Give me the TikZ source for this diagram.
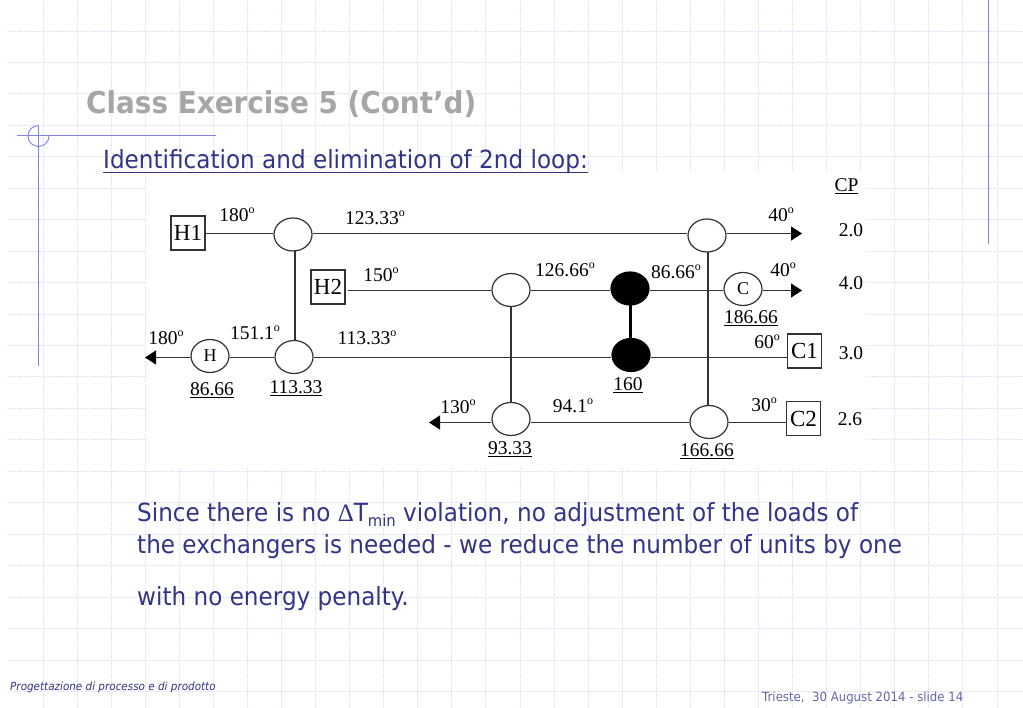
\documentclass[tikz,border=0pt]{standalone}
\usepackage{fontspec}
\usetikzlibrary{arrows.meta,shapes.geometric}
\setmainfont{DejaVu Sans}[FakeStretch=0.925]
\newfontfamily\serifdg{Liberation Serif}
\definecolor{gridc}{HTML}{E6E6FA}
\definecolor{decor}{HTML}{8080E8}
\definecolor{navy}{HTML}{333388}
\definecolor{ink}{HTML}{333333}
\newcommand{\dg}{\raisebox{0.42em}{\fontsize{12}{12}\selectfont o}}
\tikzset{
 x=1pt,y=-1pt,
 gridline/.style={gridc,line width=0.9pt,dash pattern=on 3pt off 0.8pt},
 decorline/.style={decor,line width=0.9pt},
 wire/.style={ink,line width=1.3pt},
 unitbox/.style={draw=ink,line width=1.2pt,fill=white,minimum size=34pt,inner sep=0pt,font=\serifdg\fontsize{23}{23}\selectfont,text=black},
 hx/.style={ellipse,draw=ink,line width=1.2pt,fill=white,minimum width=38pt,minimum height=33pt,inner sep=0pt,font=\serifdg\fontsize{18}{18}\selectfont,text=black},
 hxblack/.style={hx,fill=black,draw=black},
 lbl/.style={inner sep=0pt,font=\serifdg\fontsize{19.5}{19}\selectfont,text=black},
 headtext/.style={anchor=base west,inner sep=0pt},
 arr/.style={wire,-{Triangle[length=11pt,width=14pt,color=black]}},
}
\begin{document}
\begin{tikzpicture}
\useasboundingbox (0,0) rectangle (1023,708);
\fill[white] (0,0) rectangle (1023,708);
% background grid
\foreach \k in {0,...,21}{\draw[gridline] (9,31+31.45*\k) -- (1023,31+31.45*\k);}
\foreach \k in {0,...,28}{\draw[gridline] (43+34.07*\k,0) -- (43+34.07*\k,708);}
\fill[white] (146,172) rectangle (866,468);
% slide decoration
\coordinate (dl) at (17,135.5); \coordinate (dr) at (216,135.5);
\coordinate (dt) at (38.5,126); \coordinate (db) at (38.5,366);
\coordinate (rt) at (988,0); \coordinate (rb) at (988,244);
\draw[decorline] (dl) -- (dr);
\draw[decorline] (dt) -- (db);
\draw[decorline] (rt) -- (rb);
\draw[decorline] (38.5,125.5) arc[start angle=270,end angle=0,radius=10.5];
% texts
\node[headtext,text=black!35,font=\bfseries\fontsize{30.1}{30}\selectfont] (title) at (86,114) {Class Exercise 5 (Cont’d)};
\node[headtext,text=navy,font=\fontsize{25}{25}\selectfont] (sub) at (103,169) {Identification and elimination of 2nd loop:};
\draw[navy,line width=1.2pt] (sub.west |- 0,172.5) -- (sub.east |- 0,172.5);
\node[headtext,text=navy,font=\fontsize{25}{25}\selectfont] (b1) at (137,521) {Since there is no {\serifdg Δ}T\raisebox{-0.2em}{\fontsize{16}{16}\selectfont min} violation, no adjustment of the loads of};
\node[headtext,text=navy,font=\fontsize{25}{25}\selectfont] (b2) at (137,553) {the exchangers is needed - we reduce the number of units by one};
\node[headtext,text=navy,font=\fontsize{25}{25}\selectfont] (b3) at (137,605) {with no energy penalty.};
\node[headtext,text=navy,font=\itshape\fontsize{11.25}{11}\selectfont] (f1) at (10,690) {Progettazione di processo e di prodotto};
\node[headtext,text=navy!75,font=\fontsize{12.7}{12.5}\selectfont] (f2) at (762,701) {Trieste,\ \ 30 August 2014 - slide 14};
% units
\node[unitbox] (H1) at (188,233) {H1};
\node[unitbox] (H2) at (328,287) {H2};
\node[unitbox] (C1) at (804.5,351) {C1};
\node[unitbox] (C2) at (803.5,418.5) {C2};
\node[hx] (a1) at (293,234.5) {};
\node[hx] (a2) at (707,235.5) {};
\node[hx] (b5) at (511,290) {};
\node[hxblack] (k1) at (630,288.5) {};
\node[hx] (cc) at (743,289) {C};
\node[hx] (a3) at (294,357) {};
\node[hxblack] (k2) at (631,355) {};
\node[hx] (hh) at (210,356) {H};
\node[hx] (b4) at (511,419) {};
\node[hx] (a4) at (709,422) {};
\coordinate (t1) at (802,233.5);
\coordinate (t2) at (802,290.5);
\coordinate (t3) at (145,357.5);
\coordinate (t4) at (429,422.5);
% connectors
\draw[wire] (H1.east |- 0,233.5) -- (a1.west |- 0,233.5);
\draw[wire] (a1.east |- 0,233.5) -- (a2.west |- 0,233.5);
\draw[arr] (a2.east |- t1) -- (t1);
\draw[wire] ([xshift=2pt]H2.east |- 0,290.5) -- (b5.west |- 0,290.5);
\draw[wire] (b5.east |- 0,290.5) -- (k1.west |- 0,290.5);
\draw[wire] (k1.east |- 0,290.5) -- (cc.west |- 0,290.5);
\draw[arr] (cc.east |- t2) -- (t2);
\draw[wire] (a3.east |- 0,357.5) -- (k2.west |- 0,357.5);
\draw[wire] (k2.east |- 0,357.5) -- (C1.west |- 0,357.5);
\draw[wire] (hh.east |- 0,357.5) -- (a3.west |- 0,357.5);
\draw[arr] (hh.west |- t3) -- (t3);
\draw[wire] (C2.west |- 0,422.5) -- (a4.east |- 0,422.5);
\draw[wire] (a4.west |- 0,422.5) -- (b4.east |- 0,422.5);
\draw[arr] (b4.west |- t4) -- (t4);
\draw[wire] (295,250.5) -- (295,341);
\draw[wire,line width=1.5pt] (b5.south) -- (b4.north);
\draw[wire] (708,252) -- (708,406);
\draw[black,line width=3pt] (630.5,304) -- (630.5,339);
% labels
\node[lbl] (l1) at (237,215) {180\dg};
\node[lbl] (l2) at (375,218) {123.33\dg};
\node[lbl] (l3) at (381,275) {150\dg};
\node[lbl] (l4) at (166,338) {180\dg};
\node[lbl] (l5) at (255,333) {151.1\dg};
\node[lbl] (l6) at (367,338) {113.33\dg};
\node[lbl] (l7) at (212,390) {\underline{86.66}};
\node[lbl] (l8) at (296,388) {\underline{113.33}};
\node[lbl] (l9) at (458,407) {130\dg};
\node[lbl] (l10) at (510,449) {\underline{93.33}};
\node[lbl] (l11) at (565,270) {126.66\dg};
\node[lbl] (l12) at (676,272) {86.66\dg};
\node[lbl] (l13) at (781,215) {40\dg};
\node[lbl] (l14) at (783,270) {40\dg};
\node[lbl] (l15) at (751,318) {\underline{186.66}};
\node[lbl] (l16) at (767,342) {60\dg};
\node[lbl] (l17) at (628,385) {\underline{160}};
\node[lbl] (l18) at (573,406) {94.1\dg};
\node[lbl] (l19) at (764,405) {30\dg};
\node[lbl] (l20) at (707,451) {\underline{166.66}};
\node[lbl] (cp) at (846.5,186) {\underline{CP}};
\node[lbl] (v1) at (851,230) {2.0};
\node[lbl] (v2) at (851,283) {4.0};
\node[lbl] (v3) at (851,353) {3.0};
\node[lbl] (v4) at (850,419) {2.6};
\end{tikzpicture}
\end{document}
